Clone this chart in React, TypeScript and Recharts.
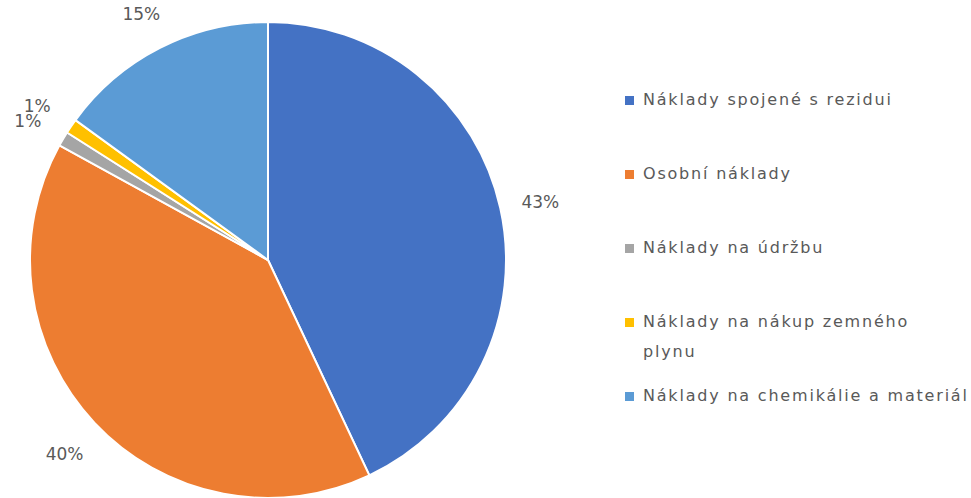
import { PieChart, Pie, Cell } from "recharts";

const categories = [
  "Náklady spojené s rezidui",
  "Osobní náklady",
  "Náklady na údržbu",
  "Náklady na nákup zemného\nplynu",
  "Náklady na chemikálie a materiál",
];
const shares = [43, 40, 1, 1, 15];
const colors = ["#4472C4", "#ED7D31", "#A5A5A5", "#FFC000", "#5B9BD5"];

const data = categories.map((name, i) => ({ name, value: shares[i] }));

const RAD = Math.PI / 180;
const TEXT = "#595959";
const FONT = "'DejaVu Sans', sans-serif";

const renderLabel = ({ cx, cy, midAngle, outerRadius, value }: any) => {
  const r = outerRadius + 41;
  const x = cx + r * Math.cos(-midAngle * RAD);
  const y = cy + r * Math.sin(-midAngle * RAD) + 3;
  return (
    <text x={x} y={y} fill={TEXT} fontSize={17} fontFamily={FONT} textAnchor="middle" dominantBaseline="central">
      {`${value}%`}
    </text>
  );
};

const LegendList = () => (
  <div
    style={{
      position: "absolute",
      left: 625,
      top: 86,
      width: 346,
      fontFamily: FONT,
      fontSize: 16,
      letterSpacing: 1.8,
      color: TEXT,
    }}
  >
    {data.map((d, i) => (
      <div key={d.name} style={{ height: 74, display: "flex", alignItems: "flex-start" }}>
        <span style={{ width: 9, height: 9, background: colors[i], marginTop: 10, marginRight: 9, flexShrink: 0 }} />
        <span style={{ whiteSpace: "pre-line", lineHeight: "30px", marginTop: -1 }}>{d.name}</span>
      </div>
    ))}
  </div>
);

export default function App() {
  return (
    <div style={{ position: "absolute", left: 0, top: 0, width: 971, height: 498, background: "#fff" }}>
      <PieChart width={971} height={498} margin={{ top: 0, right: 0, bottom: 0, left: 0 }}>
        <Pie
          data={data}
          dataKey="value"
          nameKey="name"
          cx={268}
          cy={260}
          outerRadius={238}
          startAngle={90}
          endAngle={-270}
          stroke="#fff"
          strokeWidth={2}
          label={renderLabel}
          labelLine={false}
          isAnimationActive={false}
        >
          {data.map((d, i) => (
            <Cell key={d.name} fill={colors[i]} />
          ))}
        </Pie>
      </PieChart>
      <LegendList />
    </div>
  );
}
